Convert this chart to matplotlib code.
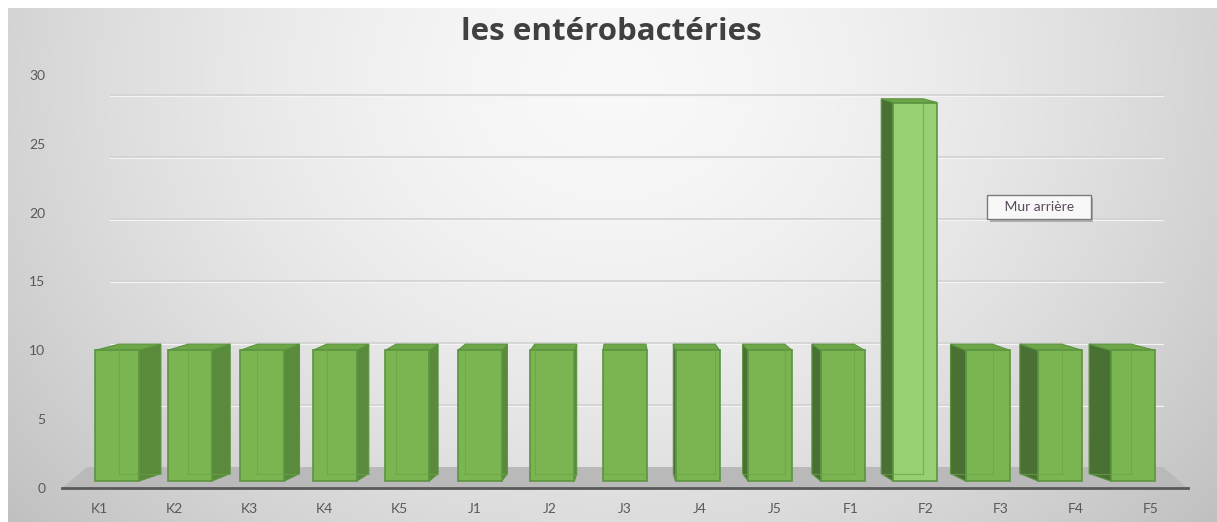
import numpy as np
import matplotlib
matplotlib.use("Agg")
import matplotlib.pyplot as plt
import matplotlib.patheffects as pe
from matplotlib.patches import Polygon

# data
categories = ["K1", "K2", "K3", "K4", "K5", "J1", "J2", "J3", "J4", "J5",
              "F1", "F2", "F3", "F4", "F5"]
values = [10, 10, 10, 10, 10, 10, 10, 10, 10, 10, 10, 28, 10, 10, 10]
highlight = "F2"
y_ticks = [0, 5, 10, 15, 20, 25, 30]
title = "les entérobactéries"
tooltip = "Mur arrière"

plt.rcParams["font.family"] = ["Lato", "DejaVu Sans"]

W, H, DPI = 1217, 522, 100
fig = plt.figure(figsize=(W / DPI, H / DPI), dpi=DPI, facecolor="white")

# radial grey background of the chart area (white frame on top/left)
bg = fig.add_axes([8 / W, 0, 1 - 8 / W, 1 - 8 / H])
gx, gy = np.meshgrid(np.linspace(8, W, 400), np.linspace(8, H, 200))
r = np.sqrt(((gx - 612) / 720) ** 2 + ((gy - 80) / 620) ** 2)
shade = 0.975 - 0.19 * np.minimum(r, 1.3) ** 1.6
bg.imshow(np.dstack([shade] * 3), aspect="auto", extent=[0, 1, 0, 1],
          interpolation="bilinear")
bg.set_axis_off()

# main plotting area, front plane
ax = fig.add_axes([62 / W, (H - 488) / H, 1126 / W, 413 / H])
ax.set_facecolor("none")
n = len(categories)
ax.set_xlim(-0.5, n - 0.5)
ax.set_ylim(0, 30)

# pseudo 3D settings
vx = (n - 1) / 2      # vanishing column
sx = 0.955            # depth shrink
base = 0.5            # bars stand on the floor
width = 0.586


def back_x(x):
    return vx + sx * (x - vx)


def back_y(y):
    return 0.55 + 0.99 * y


# floor
floor_back = 1.525
ax.add_patch(Polygon([(-0.5, 0), (n - 0.5, 0), (back_x(n - 0.5), floor_back),
                      (back_x(-0.5), floor_back)], closed=True,
                     facecolor="#b9b9b9", edgecolor="none", zorder=1))

# back wall gridlines
for v in y_ticks[1:]:
    yg = floor_back + 0.9 * v
    ax.plot([back_x(-0.5) + 0.3, back_x(n - 0.5)], [yg, yg], color="#d3d3d3",
            lw=1.3, zorder=1, solid_capstyle="butt")
    ax.plot([back_x(-0.5) + 0.3, back_x(n - 0.5)], [yg - 0.08, yg - 0.08],
            color="#f4f4f4", lw=0.8, zorder=1)

# bars
idx = np.arange(n)
centers = idx + (vx - idx) * 0.0333
heights = np.array(values, dtype=float)
front_colors = ["#97cf72" if c == highlight else "#7ab551" for c in categories]

for i, (c, h) in enumerate(zip(centers, heights)):
    xl, xr = c - width / 2, c + width / 2
    yb, yt = base, h
    edge = "#5b9440"
    if i < vx:
        side = [(xr, yb), (xr, yt), (back_x(xr), back_y(yt)), (back_x(xr), back_y(yb))]
        ax.add_patch(Polygon(side, closed=True, facecolor="#5a8a3c",
                             edgecolor=edge, lw=0.8, zorder=3))
    elif i > vx:
        side = [(xl, yb), (xl, yt), (back_x(xl), back_y(yt)), (back_x(xl), back_y(yb))]
        ax.add_patch(Polygon(side, closed=True, facecolor="#4a7134",
                             edgecolor=edge, lw=0.8, zorder=3))
    top = [(xl, yt), (xr, yt), (back_x(xr), back_y(yt)), (back_x(xl), back_y(yt))]
    ax.add_patch(Polygon(top, closed=True, facecolor="#6ea748",
                         edgecolor=edge, lw=0.8, zorder=3))

ax.bar(centers, heights - base, bottom=base, width=width, color=front_colors,
       edgecolor="#5b9440", linewidth=1.2, zorder=4)

# faint hidden back edges seen through the front face
for i, (c, h) in enumerate(zip(centers, heights)):
    xl, xr = c - width / 2, c + width / 2
    xe = back_x(xl) if i < vx else back_x(xr)
    if i != vx:
        ax.plot([xe, xe], [back_y(base), back_y(h)], color="#6aa346",
                lw=0.8, alpha=0.7, zorder=5)
    ax.plot([back_x(xl), back_x(xr)], [back_y(base), back_y(base)],
            color="#6aa346", lw=0.8, alpha=0.7, zorder=5)

# axes styling
for s in ["top", "right", "left"]:
    ax.spines[s].set_visible(False)
ax.spines["bottom"].set_color("#595959")
ax.spines["bottom"].set_linewidth(2)
ax.spines["bottom"].set_zorder(6)
ax.set_xticks(idx)
ax.set_xticklabels(categories)
ax.set_yticks(y_ticks)
ax.set_yticklabels([str(t) for t in y_ticks])
ax.tick_params(axis="both", length=0, labelsize=10, labelcolor="#595959")
ax.tick_params(axis="y", pad=12)
ax.tick_params(axis="x", pad=11)

# title
fig.text(0.502, 1 - 32 / H, title, ha="center", va="center", fontsize=22.5,
         fontweight="bold", color="#404040", family=["Open Sans", "DejaVu Sans"])

# "Mur arrière" tooltip
tip = fig.text(1039 / W, 1 - 207 / H, "   " + tooltip + "   ", ha="center",
               va="center", fontsize=10, color="#5a4a5c",
               bbox=dict(boxstyle="square,pad=0.45", facecolor="#f8f8f8",
                         edgecolor="#7a7a7a", linewidth=1))
tip.get_bbox_patch().set_path_effects(
    [pe.SimplePatchShadow(offset=(2, -2), shadow_rgbFace="#777777", alpha=0.5),
     pe.Normal()])

fig.savefig("out.png", dpi=DPI)
